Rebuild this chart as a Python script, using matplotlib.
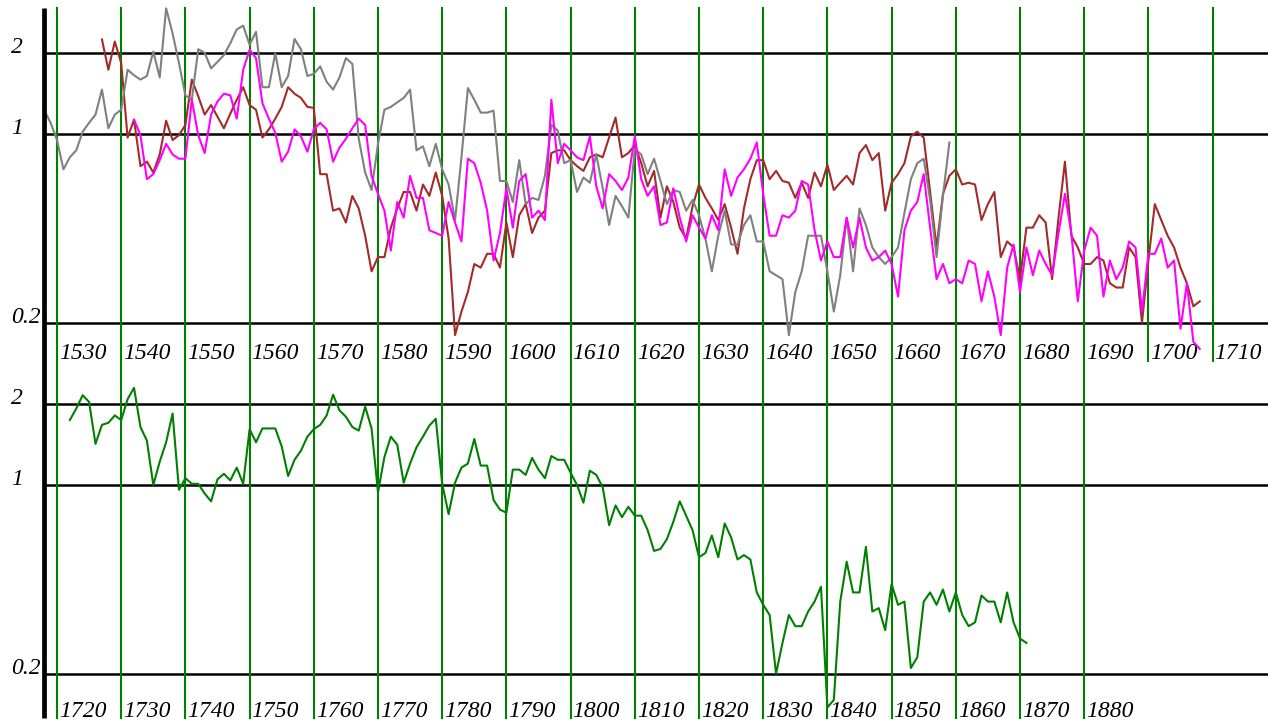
import numpy as np
import matplotlib
matplotlib.use("Agg")
import matplotlib.pyplot as plt
from matplotlib.lines import Line2D

# ---- data (yearly index values, log scale) ----
gray_start = 1528
gray_vals = [
    1.23, 1.10, 0.95, 0.74, 0.82, 0.87, 1.02, 1.10, 1.18, 1.46,   # 1528
    1.05, 1.18, 1.23, 1.73, 1.65, 1.59, 1.64, 2.02, 1.62, 2.92,   # 1538
    2.36, 1.83, 1.39, 1.34, 2.06, 2.00, 1.75, 1.85, 1.96, 2.17,   # 1548
    2.44, 2.52, 2.14, 2.39, 1.49, 1.49, 1.99, 1.49, 1.64, 2.25,   # 1558
    2.06, 1.64, 1.67, 1.78, 1.56, 1.46, 1.62, 1.91, 1.82, 0.96,   # 1568
    0.72, 0.62, 0.92, 1.23, 1.26, 1.31, 1.36, 1.46, 0.87, 0.90,   # 1578
    0.76, 0.92, 0.74, 0.65, 0.48, 0.82, 1.48, 1.34, 1.20, 1.20,   # 1588
    1.22, 0.67, 0.67, 0.56, 0.80, 0.55, 0.58, 0.57, 0.70, 1.08,   # 1598
    1.03, 0.78, 0.80, 0.61, 0.69, 0.66, 0.84, 0.63, 0.46, 0.59,   # 1608
    0.54, 0.49, 0.88, 0.84, 0.71, 0.81, 0.67, 0.55, 0.62, 0.61,   # 1618
    0.52, 0.57, 0.50, 0.41, 0.31, 0.42, 0.52, 0.39, 0.39, 0.46,   # 1628
    0.50, 0.40, 0.40, 0.31, 0.30, 0.29, 0.18, 0.26, 0.31, 0.42,   # 1638
    0.42, 0.42, 0.31, 0.22, 0.30, 0.49, 0.31, 0.53, 0.46, 0.38,   # 1648
    0.35, 0.33, 0.35, 0.38, 0.51, 0.68, 0.78, 0.81, 0.57, 0.35,   # 1658
    0.59, 0.93,                                                   # 1668
]

brown_start = 1537
brown_vals = [
    2.24, 1.73, 2.20, 1.83, 0.97, 1.13, 0.76, 0.79, 0.72, 0.84,   # 1537
    1.12, 0.95, 0.99, 1.08, 1.59, 1.38, 1.18, 1.28, 1.16, 1.05,   # 1547
    1.19, 1.34, 1.49, 1.28, 1.23, 0.97, 1.04, 1.14, 1.26, 1.49,   # 1557
    1.41, 1.36, 1.26, 1.25, 0.71, 0.71, 0.52, 0.53, 0.47, 0.59,   # 1567
    0.53, 0.42, 0.31, 0.35, 0.35, 0.45, 0.53, 0.61, 0.61, 0.52,   # 1577
    0.65, 0.59, 0.72, 0.59, 0.41, 0.18, 0.22, 0.26, 0.33, 0.32,   # 1587
    0.36, 0.36, 0.32, 0.47, 0.35, 0.50, 0.55, 0.43, 0.49, 0.52,   # 1597
    0.85, 0.87, 0.87, 0.80, 0.76, 0.73, 0.82, 0.84, 0.82, 0.97,   # 1607
    1.15, 0.82, 0.85, 0.91, 0.78, 0.64, 0.73, 0.49, 0.64, 0.56,   # 1617
    0.45, 0.41, 0.54, 0.65, 0.58, 0.53, 0.48, 0.55, 0.45, 0.36,   # 1627
    0.53, 0.68, 0.80, 0.80, 0.68, 0.73, 0.67, 0.66, 0.58, 0.66,   # 1637
    0.58, 0.72, 0.64, 0.77, 0.62, 0.66, 0.70, 0.65, 0.85, 0.91,   # 1647
    0.80, 0.85, 0.52, 0.66, 0.71, 0.78, 0.98, 1.02, 0.97, 0.61,   # 1657
    0.38, 0.60, 0.70, 0.74, 0.65, 0.66, 0.65, 0.48, 0.55, 0.61,   # 1667
    0.35, 0.40, 0.38, 0.29, 0.45, 0.45, 0.50, 0.47, 0.29, 0.49,   # 1677
    0.79, 0.42, 0.38, 0.33, 0.33, 0.35, 0.34, 0.28, 0.27, 0.27,   # 1687
    0.38, 0.35, 0.20, 0.34, 0.55, 0.48, 0.42, 0.38, 0.32, 0.28,   # 1697
    0.23, 0.24,                                                   # 1707
]

magenta_start = 1542
magenta_vals = [
    1.13, 0.99, 0.68, 0.71, 0.80, 0.92, 0.84, 0.81, 0.81, 1.34,   # 1542
    0.99, 0.85, 1.18, 1.32, 1.41, 1.39, 1.14, 1.73, 2.05, 1.91,   # 1552
    1.30, 1.14, 1.01, 0.79, 0.86, 1.04, 0.98, 0.86, 1.04, 1.10,   # 1562
    1.04, 0.79, 0.89, 0.96, 1.05, 1.14, 1.08, 0.70, 0.60, 0.52,   # 1572
    0.37, 0.56, 0.49, 0.70, 0.58, 0.58, 0.44, 0.43, 0.42, 0.56,   # 1582
    0.47, 0.40, 0.81, 0.78, 0.66, 0.52, 0.34, 0.43, 0.63, 0.45,   # 1592
    0.67, 0.71, 0.49, 0.52, 0.48, 1.34, 0.78, 0.92, 0.87, 0.82,   # 1602
    0.80, 0.98, 0.64, 0.53, 0.71, 0.67, 0.62, 0.69, 0.98, 0.68,   # 1612
    0.59, 0.64, 0.46, 0.47, 0.63, 0.49, 0.40, 0.50, 0.45, 0.41,   # 1622
    0.50, 0.44, 0.74, 0.59, 0.69, 0.74, 0.81, 0.93, 0.60, 0.42,   # 1632
    0.42, 0.50, 0.49, 0.52, 0.67, 0.65, 0.44, 0.34, 0.40, 0.35,   # 1642
    0.35, 0.49, 0.38, 0.49, 0.38, 0.34, 0.35, 0.37, 0.33, 0.25,   # 1652
    0.44, 0.52, 0.56, 0.71, 0.45, 0.29, 0.33, 0.28, 0.29, 0.28,   # 1662
    0.34, 0.33, 0.24, 0.31, 0.25, 0.18, 0.32, 0.39, 0.26, 0.38,   # 1672
    0.30, 0.37, 0.33, 0.30, 0.43, 0.60, 0.43, 0.24, 0.37, 0.45,   # 1682
    0.42, 0.25, 0.34, 0.29, 0.32, 0.40, 0.38, 0.22, 0.36, 0.36,   # 1692
    0.41, 0.32, 0.34, 0.19, 0.28, 0.17, 0.16,                     # 1702
]

green_start = 1722
green_vals = [
    1.74, 1.92, 2.15, 2.03, 1.42, 1.67, 1.70, 1.81, 1.74, 2.08,   # 1722
    2.29, 1.64, 1.46, 1.00, 1.22, 1.44, 1.84, 0.96, 1.06, 1.01,   # 1732
    1.01, 0.93, 0.87, 1.05, 1.10, 1.04, 1.16, 1.01, 1.61, 1.44,   # 1742
    1.62, 1.62, 1.62, 1.39, 1.08, 1.24, 1.34, 1.51, 1.61, 1.67,   # 1752
    1.81, 2.16, 1.89, 1.79, 1.64, 1.59, 1.95, 1.62, 0.94, 1.27,   # 1762
    1.51, 1.41, 1.02, 1.20, 1.38, 1.51, 1.66, 1.76, 1.01, 0.78,   # 1772
    1.02, 1.16, 1.20, 1.48, 1.18, 1.18, 0.88, 0.81, 0.79, 1.14,   # 1782
    1.14, 1.09, 1.26, 1.14, 1.06, 1.28, 1.24, 1.24, 1.11, 1.00,   # 1792
    0.86, 1.13, 1.09, 0.98, 0.71, 0.84, 0.76, 0.83, 0.77, 0.77,   # 1802
    0.68, 0.57, 0.58, 0.63, 0.73, 0.87, 0.77, 0.68, 0.54, 0.56,   # 1812
    0.65, 0.54, 0.72, 0.64, 0.53, 0.55, 0.53, 0.40, 0.36, 0.33,   # 1822
    0.20, 0.26, 0.33, 0.30, 0.30, 0.34, 0.37, 0.42, 0.15, 0.16,   # 1832
    0.37, 0.52, 0.40, 0.40, 0.59, 0.34, 0.35, 0.29, 0.43, 0.36,   # 1842
    0.37, 0.21, 0.23, 0.37, 0.40, 0.36, 0.41, 0.34, 0.40, 0.33,   # 1852
    0.30, 0.31, 0.39, 0.37, 0.37, 0.31, 0.40, 0.31, 0.27, 0.26,   # 1862
]

y_ticks = [2, 1, 0.2]
y_tick_labels = ["2", "1", "0.2"]
top_decades = list(range(1530, 1711, 10))
bottom_decades = list(range(1720, 1881, 10))

# ---- layout (pixels of the 1268x724 picture) ----
W, H = 1268, 724
PX_PER_YEAR = 6.42
LEFT_PX = 44
top_xmin = 1530 - (57 - LEFT_PX) / PX_PER_YEAR
top_xmax = top_xmin + (W - LEFT_PX) / PX_PER_YEAR
bot_xmin = top_xmin + 190
bot_xmax = top_xmax + 190

label_font = dict(family="Liberation Serif", style="italic", size=17)


def years_for(start, vals):
    return np.arange(start, start + len(vals))


def setup_panel(ax, xmin, xmax, ylims, decades, green_span, label_y):
    ax.set_xscale("linear")
    ax.set_yscale("log")
    ax.set_xlim(xmin, xmax)
    ax.set_ylim(*ylims)
    ax.axis("off")

    # horizontal reference lines
    for v in y_ticks:
        ax.axhline(v, color="black", lw=1.8, zorder=1)
    # decade lines
    for d in decades:
        ax.axvline(d, ymin=green_span[0], ymax=green_span[1],
                   color="#008000", lw=1.5, zorder=2)
        ax.text(d + 0.3, label_y, str(d), transform=ax.get_xaxis_transform(),
                ha="left", va="baseline", clip_on=False, **label_font)
    # y labels left of the axis line
    for v, lab in zip(y_ticks, y_tick_labels):
        ax.text(xmin - 33 / PX_PER_YEAR, v, lab, ha="left", va="baseline",
                clip_on=False, **label_font)


fig = plt.figure(figsize=(W / 100, H / 100), dpi=100)

ax_top = fig.add_axes([LEFT_PX / W, 0.5, (W - LEFT_PX) / W, 0.5])
ax_bot = fig.add_axes([LEFT_PX / W, 0.0, (W - LEFT_PX) / W, 0.5])

# top panel: 1 at row 134, 270 px per decade
setup_panel(ax_top, top_xmin, top_xmax,
            (10 ** (-(362 - 134) / 270), 10 ** (134 / 270)),
            top_decades, (0.0, 1 - 8 / 362), 3 / 362)
# bottom panel: 1 at row 485
setup_panel(ax_bot, bot_xmin, bot_xmax,
            (10 ** (-(724 - 485) / 270), 10 ** ((485 - 362) / 270)),
            bottom_decades, (6 / 362, 1.0), 7 / 362)

ax_top.plot(years_for(brown_start, brown_vals), brown_vals,
            color="#a52a2a", lw=1.5, zorder=3, clip_on=False)
ax_top.plot(years_for(gray_start, gray_vals), gray_vals,
            color="#808080", lw=1.5, zorder=3, clip_on=False)
ax_top.plot(years_for(magenta_start, magenta_vals), magenta_vals,
            color="#ff00ff", lw=1.5, zorder=3, clip_on=False)

ax_bot.plot(years_for(green_start, green_vals), green_vals,
            color="#008000", lw=1.5, zorder=3, clip_on=False)

# thick black axis line on the left
fig.add_artist(Line2D([LEFT_PX / W, LEFT_PX / W], [1 - 8 / H, 6 / H],
                      color="black", lw=3.4, solid_capstyle="butt"))

fig.savefig("out.png", dpi=100)
